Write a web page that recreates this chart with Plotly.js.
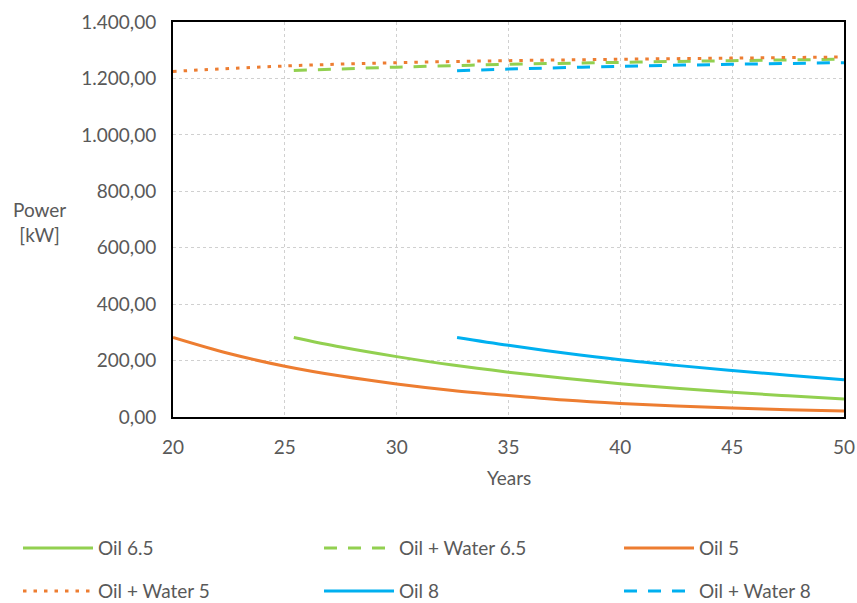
<!DOCTYPE html>
<html>
<head>
<meta charset="utf-8">
<script src="https://cdn.plot.ly/plotly-3.0.1.min.js"></script>
<style>html,body{margin:0;padding:0;background:#fff}#chart{width:857px;height:603px}</style>
</head>
<body>
<div id="chart"></div>
<script>
// Data
const oil5X = [20, 22.5, 25, 27.5, 30, 32.5, 35, 37.5, 40, 42.5, 45, 47.5, 50];
const oil5Y = [282, 225, 180, 145, 117, 94, 76, 60, 48, 39, 32, 26, 21];
const oil65X = [25.4, 27.5, 30, 32.5, 35, 37.5, 40, 42.5, 45, 47.5, 50];
const oil65Y = [282, 248, 214, 184, 159, 137, 118, 102, 88, 75, 64];
const oil8X = [32.7, 35, 37.5, 40, 42.5, 45, 47.5, 50];
const oil8Y = [282, 254, 227, 203, 183, 165, 148, 132];
const ow5X = [20, 25, 30, 35, 40, 45, 50];
const ow5Y = [1225, 1244, 1256, 1263, 1268, 1272, 1276];
const ow65X = [25.4, 30, 35, 40, 45, 50];
const ow65Y = [1228, 1240, 1250, 1257, 1263, 1268];
const ow8X = [32.7, 35, 40, 45, 50];
const ow8Y = [1227, 1233, 1243, 1250, 1256];
const seriesNames = ['Oil 6.5', 'Oil + Water 6.5', 'Oil 5', 'Oil + Water 5', 'Oil 8', 'Oil + Water 8'];

const GREEN = '#92d050', ORANGE = '#ed7d31', BLUE = '#00b0f0';
const FONT = 'Lato, "Open Sans", sans-serif';
const GREY = '#595959';
const FS = 19;

function tr(name, x, y, color, dash, legend) {
  return {x: x, y: y, name: name, type: 'scatter', mode: 'lines',
    line: {color: color, width: 3, dash: dash, shape: 'spline'},
    legend: legend, hoverinfo: 'skip'};
}

const data = [
  tr(seriesNames[0], oil65X, oil65Y, GREEN, 'solid', 'legend'),
  tr(seriesNames[1], ow65X, ow65Y, GREEN, '13px,11px', 'legend2'),
  tr(seriesNames[2], oil5X, oil5Y, ORANGE, 'solid', 'legend3'),
  tr(seriesNames[3], ow5X, ow5Y, ORANGE, '3.5px,7px', 'legend4'),
  tr(seriesNames[4], oil8X, oil8Y, BLUE, 'solid', 'legend5'),
  tr(seriesNames[5], ow8X, ow8Y, BLUE, '13px,11px', 'legend6')
];

function leg(x, y) {
  return {
    x: x, y: y, orientation: 'h', xanchor: 'left', yanchor: 'middle',
    font: {family: FONT, size: FS, color: GREY},
    itemwidth: 70, bgcolor: 'rgba(0,0,0,0)'
  };
}
const colX = [-0.231, 0.2176, 0.6647];
const rowY = [-0.332, -0.441];

const layout = {
  width: 857, height: 603,
  margin: {l: 173, r: 13, t: 22, b: 186, autoexpand: false},
  paper_bgcolor: '#fff', plot_bgcolor: '#fff',
  separators: ',.',
  font: {family: FONT, size: FS, color: GREY},
  showlegend: true,
  xaxis: {
    range: [20, 50], dtick: 5, tick0: 20,
    showgrid: true, gridcolor: '#d0d0d0', griddash: 'dot', gridwidth: 1,
    showline: true, mirror: true, linecolor: '#000', linewidth: 2,
    ticks: '', zeroline: false, ticklabelstandoff: 12,
    tickfont: {family: FONT, size: FS, color: GREY}
  },
  yaxis: {
    range: [0, 1400], dtick: 200, tick0: 0,
    tickformat: ',.2f',
    showgrid: true, gridcolor: '#d0d0d0', griddash: 'dot', gridwidth: 1,
    showline: true, mirror: true, linecolor: '#000', linewidth: 2,
    ticks: '', zeroline: false, ticklabelstandoff: 11,
    tickfont: {family: FONT, size: FS, color: GREY}
  },
  legend: leg(colX[0], rowY[0]),
  legend2: leg(colX[1], rowY[0]),
  legend3: leg(colX[2], rowY[0]),
  legend4: leg(colX[0], rowY[1]),
  legend5: leg(colX[1], rowY[1]),
  legend6: leg(colX[2], rowY[1]),
  annotations: [
    {text: 'Power<br>[kW]', xref: 'paper', yref: 'paper', x: -0.199, y: 0.494,
     xanchor: 'center', yanchor: 'middle', showarrow: false,
     font: {family: FONT, size: FS, color: GREY}},
    {text: 'Years', xref: 'paper', yref: 'paper', x: 0.5, y: -0.154,
     xanchor: 'center', yanchor: 'middle', showarrow: false,
     font: {family: FONT, size: FS, color: GREY}}
  ]
};

Plotly.newPlot('chart', data, layout, {displayModeBar: false, staticPlot: true});
</script>
</body>
</html>
